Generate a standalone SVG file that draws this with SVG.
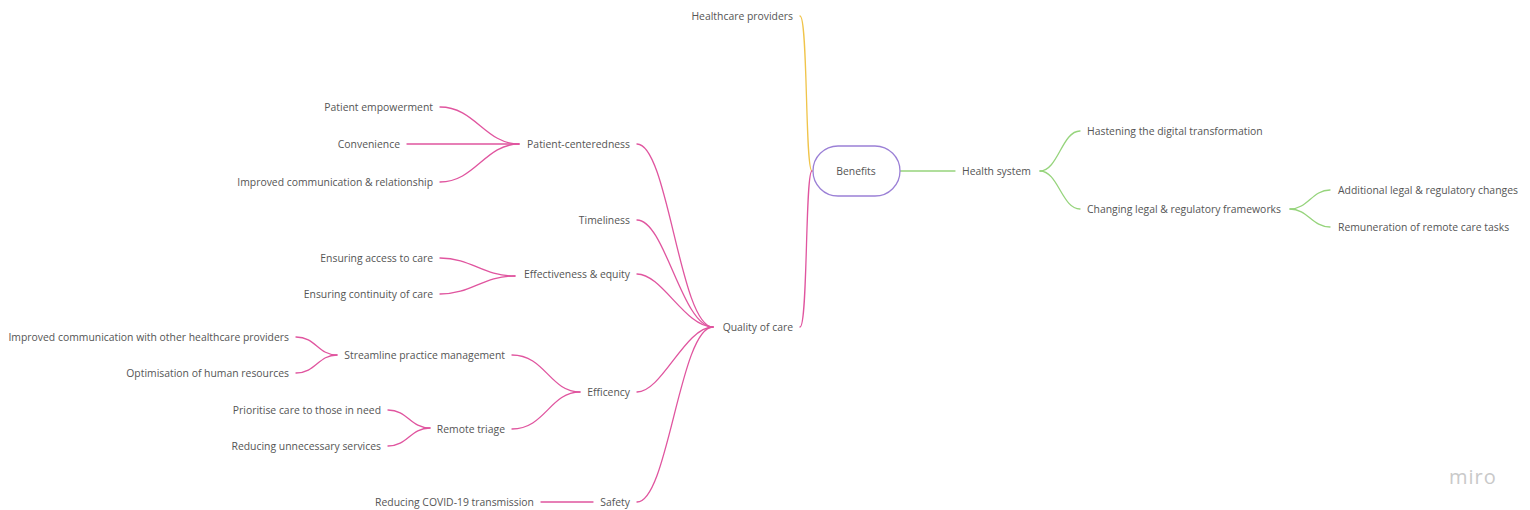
<svg xmlns="http://www.w3.org/2000/svg" width="1530" height="510" viewBox="0 0 1530 510">
<style>
text{font-family:"Open Sans","DejaVu Sans",sans-serif;font-size:10.4px;fill:#555}
.l{text-anchor:end}
.c{fill:none;stroke-width:1.3;stroke-linecap:round}
.p{stroke:#e0559f}
.g{stroke:#96d47c}
.y{stroke:#f0c44a}
</style>
<rect width="1530" height="510" fill="#fff"/>
<g id="connectors">
<path class="c y" d="M812 171 C805 171 808 16 800 16"/>
<path class="c p" d="M812 171 C805 171 808 327 800 327"/>
<path class="c g" d="M900 171 L955 171"/>
<path class="c g" d="M1040 171 C1058 171 1062 131 1080 131"/>
<path class="c g" d="M1040 171 C1058 171 1062 209 1080 209"/>
<path class="c g" d="M1290 209 C1308 209 1312 190 1330 190"/>
<path class="c g" d="M1290 209 C1308 209 1312 227 1330 227"/>
<path class="c p" d="M637 144 C668 144 680 327 713 327"/>
<path class="c p" d="M637 220 C665 220 682 327 713 327"/>
<path class="c p" d="M637 274 C662 274 685 327 713 327"/>
<path class="c p" d="M637 392 C662 392 685 327 713 327"/>
<path class="c p" d="M637 502 C668 502 680 327 713 327"/>
<path class="c p" d="M440 107 C475 107 485 144 519 144"/>
<path class="c p" d="M407 144 L519 144"/>
<path class="c p" d="M440 182 C475 182 485 144 519 144"/>
<path class="c p" d="M440 258 C472 258 482 276 515 276"/>
<path class="c p" d="M440 294 C472 294 482 276 515 276"/>
<path class="c p" d="M512 355 C545 355 550 392 580 392"/>
<path class="c p" d="M512 429 C545 429 550 392 580 392"/>
<path class="c p" d="M296 337 C316 337 318 355 337 355"/>
<path class="c p" d="M296 373 C316 373 318 355 337 355"/>
<path class="c p" d="M388 410 C408 410 410 428 430 428"/>
<path class="c p" d="M388 446 C408 446 410 428 430 428"/>
<path class="c p" d="M541 502 L593 502"/>
</g>
<g id="benefits"><rect x="813" y="146" width="87" height="50" rx="25" fill="#fff" stroke="#9b80d6" stroke-width="1.3"/><text x="856" y="175" text-anchor="middle">Benefits</text></g>
<g id="healthcare-providers"><text class="l" x="793" y="19.5">Healthcare providers</text></g>
<g id="quality-of-care"><text class="l" x="793" y="330.5">Quality of care</text></g>
<g id="health-system"><text x="962" y="174.5">Health system</text></g>
<g id="hastening"><text x="1087" y="134.5">Hastening the digital transformation</text></g>
<g id="changing"><text x="1087" y="212.5">Changing legal &amp; regulatory frameworks</text></g>
<g id="additional"><text x="1338" y="193.5">Additional legal &amp; regulatory changes</text></g>
<g id="remuneration"><text x="1338" y="230.5">Remuneration of remote care tasks</text></g>
<g id="patient-centeredness"><text class="l" x="630" y="147.5">Patient-centeredness</text></g>
<g id="patient-empowerment"><text class="l" x="433" y="110.5">Patient empowerment</text></g>
<g id="convenience"><text class="l" x="400" y="147.5">Convenience</text></g>
<g id="improved-relationship"><text class="l" x="433" y="185.5">Improved communication &amp; relationship</text></g>
<g id="timeliness"><text class="l" x="630" y="223.5">Timeliness</text></g>
<g id="effectiveness"><text class="l" x="630" y="277.5">Effectiveness &amp; equity</text></g>
<g id="access"><text class="l" x="433" y="261.5">Ensuring access to care</text></g>
<g id="continuity"><text class="l" x="433" y="297.5">Ensuring continuity of care</text></g>
<g id="efficency"><text class="l" x="630" y="395.5">Efficency</text></g>
<g id="streamline"><text class="l" x="505" y="358.5">Streamline practice management</text></g>
<g id="improved-other"><text class="l" x="289" y="340.5">Improved communication with other healthcare providers</text></g>
<g id="optimisation"><text class="l" x="289" y="376.5">Optimisation of human resources</text></g>
<g id="remote-triage"><text class="l" x="505" y="432.5">Remote triage</text></g>
<g id="prioritise"><text class="l" x="381" y="413.5">Prioritise care to those in need</text></g>
<g id="reducing-services"><text class="l" x="381" y="449.5">Reducing unnecessary services</text></g>
<g id="safety"><text class="l" x="630" y="505.5">Safety</text></g>
<g id="covid"><text class="l" x="534" y="505.5">Reducing COVID-19 transmission</text></g>
<text x="1449" y="484" style="font-size:20px;fill:#c9c9c9;letter-spacing:1px">miro</text>
</svg>
